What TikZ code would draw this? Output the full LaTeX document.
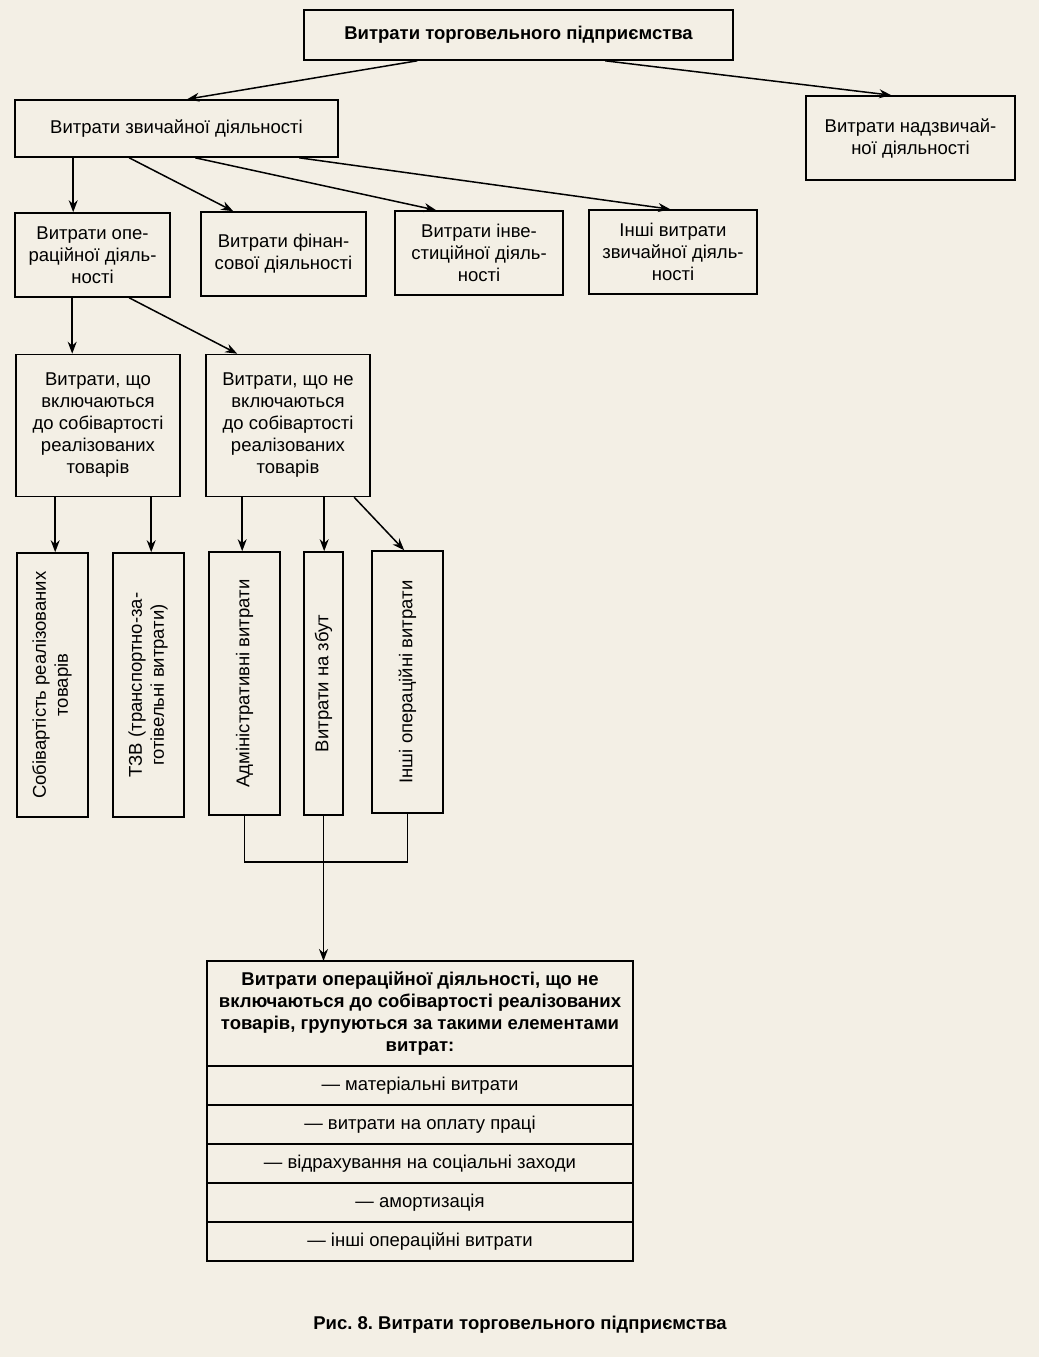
\documentclass[tikz,border=0pt]{standalone}
\usepackage{fontspec}
\setmainfont{Liberation Sans}
\usetikzlibrary{positioning,arrows.meta}
\definecolor{paper}{RGB}{243,239,229}
\frenchspacing
\tikzset{
  box/.style={draw, line width=1.6pt, align=center, inner sep=2pt,
    font=\fontsize{18.5}{22}\selectfont},
  rowbox/.style={box, outer sep=0pt, minimum width=426pt, minimum height=39pt},
  conn/.style={line width=1.5pt},
  arr/.style={conn, -{Stealth[length=12pt,width=9pt]}},
}
\begin{document}
\begin{tikzpicture}[x=1pt,y=-1pt]
  \fill[paper] (0,0) rectangle (1039,1357);
  \useasboundingbox (0,0) rectangle (1039,1357);
  % top levels
  \node[box, minimum width=429pt, minimum height=50pt, font=\fontsize{18.5}{22}\selectfont\bfseries] (top) at (518.5,35) {Витрати торговельного підприємства};
  \node[box, minimum width=323pt, minimum height=57pt] (ord) at (176.5,128.5) {Витрати звичайної діяльності};
  \node[box, minimum width=209pt, minimum height=84pt] (extra) at (910.5,138) {Витрати надзвичай-\\ної діяльності};
  \node[box, minimum width=155pt, minimum height=84pt] (oper) at (92.5,255) {Витрати опе-\\раційної діяль-\\ності};
  \node[box, minimum width=165pt, minimum height=84pt] (fin) at (283.5,254) {Витрати фінан-\\сової діяльності};
  \node[box, minimum width=168pt, minimum height=84pt] (inv) at (479,253) {Витрати інве-\\стиційної діяль-\\ності};
  \node[box, minimum width=168pt, minimum height=84pt] (oth) at (673,252) {Інші витрати\\звичайної діяль-\\ності};
  % operational split
  \node[box, minimum width=164pt, minimum height=142pt] (incl) at (98,425.5) {Витрати, що\\включаються\\до собівартості\\реалізованих\\товарів};
  \node[box, minimum width=164pt, minimum height=142pt] (excl) at (288,425.5) {Витрати, що не\\включаються\\до собівартості\\реалізованих\\товарів};
  % vertical boxes
  \node[box, minimum width=71pt, minimum height=264pt] (v1) at (52.5,685) {\rotatebox{90}{\begin{tabular}{@{}c@{}}Собівартість реалізованих\\товарів\end{tabular}}};
  \node[box, minimum width=71pt, minimum height=264pt] (v2) at (148.5,685) {\rotatebox{90}{\begin{tabular}{@{}c@{}}ТЗВ (транспортно-за-\\готівельні витрати)\end{tabular}}};
  \node[box, minimum width=71pt, minimum height=263pt] (v3) at (244.5,683.5) {\rotatebox{90}{Адміністративні витрати}};
  \node[box, minimum width=39pt, minimum height=263pt] (v4) at (323.5,683.5) {\rotatebox{90}{Витрати на збут}};
  \node[box, minimum width=71pt, minimum height=262pt] (v5) at (407.5,682) {\rotatebox{90}{Інші операційні витрати}};
  % elements table
  \node[box, outer sep=0pt, minimum width=426pt, minimum height=105pt, font=\fontsize{18.5}{22}\selectfont\bfseries] (hdr) at (420,1013.5) {Витрати операційної діяльності, що не\\включаються до собівартості реалізованих\\товарів, групуються за такими елементами\\витрат:};
  \node[rowbox, below=0pt of hdr] (el1) {--- матеріальні витрати};
  \node[rowbox, below=0pt of el1] (el2) {--- витрати на оплату праці};
  \node[rowbox, below=0pt of el2] (el3) {--- відрахування на соціальні заходи};
  \node[rowbox, below=0pt of el3] (el4) {--- амортизація};
  \node[rowbox, below=0pt of el4] (el5) {--- інші операційні витрати};
  \node[font=\fontsize{18.5}{22}\selectfont\bfseries] (cap) at (520,1325) {Рис. 8. Витрати торговельного підприємства};
  % arrows
  \draw[arr] ([xshift=114pt]top.south west) -- ([xshift=173pt]ord.north west);
  \draw[arr] ([xshift=302pt]top.south west) -- ([xshift=86pt]extra.north west);
  \draw[arr] ([xshift=59pt]ord.south west) -- ([xshift=59pt]oper.north west);
  \draw[arr] ([xshift=115pt]ord.south west) -- ([xshift=33pt]fin.north west);
  \draw[arr] ([xshift=181pt]ord.south west) -- ([xshift=42pt]inv.north west);
  \draw[arr] ([xshift=285pt]ord.south west) -- ([xshift=82pt]oth.north west);
  \draw[arr] ([xshift=58pt]oper.south west) -- ([xshift=57pt]incl.north west);
  \draw[arr] ([xshift=115pt]oper.south west) -- ([xshift=32pt]excl.north west);
  \draw[arr] ([xshift=40pt]incl.south west) -- ([xshift=39pt]v1.north west);
  \draw[arr] ([xshift=136pt]incl.south west) -- ([xshift=39pt]v2.north west);
  \draw[arr] ([xshift=37pt]excl.south west) -- ([xshift=34pt]v3.north west);
  \draw[arr] ([xshift=119pt]excl.south west) -- ([xshift=119pt]excl.south west |- v4.north);
  \draw[arr] ([xshift=149pt]excl.south west) -- ([xshift=33pt]v5.north west);
  \coordinate (bus) at (323.5,862);
  \draw[conn] (v3.south) |- (bus) -| (v5.south);
  \draw[arr] (v4.south) -- (hdr.north -| v4.south);
\end{tikzpicture}
\end{document}
